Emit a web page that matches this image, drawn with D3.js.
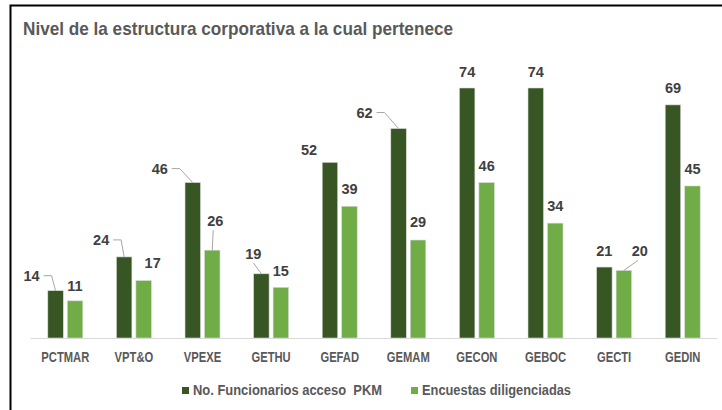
<!DOCTYPE html>
<html>
<head>
<meta charset="utf-8">
<script src="https://cdn.jsdelivr.net/npm/d3@7"></script>
<style>
  body { margin: 0; background: #fff; }
  text { font-family: "Liberation Sans", Arial, sans-serif; }
</style>
</head>
<body>
<div id="chart"></div>
<script>
const categories = ["PCTMAR", "VPT&O", "VPEXE", "GETHU", "GEFAD", "GEMAM", "GECON", "GEBOC", "GECTI", "GEDIN"];
const seriesNames = ["No. Funcionarios acceso  PKM", "Encuestas diligenciadas"];
const funcionarios = [14, 24, 46, 19, 52, 62, 74, 74, 21, 69];
const encuestas = [11, 17, 26, 15, 39, 29, 46, 34, 20, 45];

// label nudges (px from default spot) and leader kind: 0 none, 1 elbow, 2 straight
const nudges = [
  [[-24, 1], [-23, -1], [-33, 2], [-8, -4], [-21, 4], [-34, 0], [0, 0], [0, 0], [0, 0], [0, -1]],
  [[0, 1], [9, -2], [3, -13], [0, 0], [0, -1], [0, -2], [0, -1], [0, -1], [16, -3], [0, -1]],
];
const leaders = [
  [1, 1, 1, 2, 0, 1, 0, 0, 0, 0],
  [0, 0, 2, 0, 0, 0, 0, 0, 2, 0],
];

const colors = ["#375623", "#70ad47"];
const width = 722, height = 410;

const svg = d3.select("#chart").append("svg")
  .attr("width", width)
  .attr("height", height);

// frame (left + top)
svg.append("path")
  .attr("d", `M10.5,${height} V5.5 H${width}`)
  .attr("fill", "none")
  .attr("stroke", "#000")
  .attr("stroke-width", 2);

// squeeze text horizontally to mimic the narrow font
function narrow(sel, k) {
  sel.each(function () {
    const w = this.getComputedTextLength();
    d3.select(this)
      .attr("textLength", w * k)
      .attr("lengthAdjust", "spacingAndGlyphs");
  });
}

svg.append("text")
  .attr("x", 23)
  .attr("y", 35)
  .attr("font-size", 19)
  .attr("font-weight", "bold")
  .attr("fill", "#595959")
  .attr("textLength", 430)
  .attr("lengthAdjust", "spacingAndGlyphs")
  .text("Nivel de la estructura corporativa a la cual pertenece");

const x0 = d3.scaleBand()
  .domain(categories)
  .range([31, 717])
  .paddingInner(0.49)
  .paddingOuter(0.245);

const x1 = d3.scaleBand()
  .domain([0, 1])
  .range([0, x0.bandwidth()])
  .paddingInner(0.205);

const y = d3.scaleLinear()
  .domain([0, 74])
  .range([338, 88]);

const series = [funcionarios, encuestas];

const rows = [];
series.forEach((vals, s) => {
  vals.forEach((v, i) => rows.push({ s, i, cat: categories[i], value: v }));
});

// bars
svg.append("g")
  .selectAll("rect")
  .data(rows)
  .join("rect")
  .attr("x", (d) => x0(d.cat) + x1(d.s))
  .attr("y", (d) => y(d.value))
  .attr("width", x1.bandwidth())
  .attr("height", (d) => y(0) - y(d.value))
  .attr("fill", (d) => colors[d.s])
  .attr("stroke", "#d9d9d9")
  .attr("stroke-width", 0.6);

// x axis
const xAxis = svg.append("g")
  .attr("transform", `translate(0,${y(0)})`)
  .call(d3.axisBottom(x0).tickSize(0).tickPadding(0));
xAxis.select(".domain").attr("stroke", "#d9d9d9").attr("stroke-width", 1.2)
  .attr("d", "M31,0.5H717");
xAxis.selectAll("text")
  .attr("y", 24)
  .attr("dy", null)
  .attr("font-size", 14)
  .attr("font-weight", "bold")
  .attr("font-family", "Liberation Sans, Arial, sans-serif")
  .attr("fill", "#595959")
  .call(narrow, 0.8);

// data labels
const labelPos = (d) => {
  const n = nudges[d.s][d.i];
  return {
    cx: x0(d.cat) + x1(d.s) + x1.bandwidth() / 2,
    lx: x0(d.cat) + x1(d.s) + x1.bandwidth() / 2 + n[0],
    ly: y(d.value) - 16 + n[1],
  };
};

svg.append("g")
  .selectAll("text")
  .data(rows)
  .join("text")
  .attr("x", (d) => labelPos(d).lx)
  .attr("y", (d) => labelPos(d).ly)
  .attr("text-anchor", "middle")
  .attr("dominant-baseline", "central")
  .attr("font-size", 14.5)
  .attr("font-weight", "bold")
  .attr("fill", "#404040")
  .text((d) => d.value);

// leader lines
svg.append("g")
  .selectAll("path")
  .data(rows.filter((d) => leaders[d.s][d.i] > 0))
  .join("path")
  .attr("fill", "none")
  .attr("stroke", "#a6a6a6")
  .attr("stroke-width", 1)
  .attr("d", (d) => {
    const p = labelPos(d);
    const top = y(d.value);
    if (leaders[d.s][d.i] === 1) {
      const x = p.lx + 12;
      return `M${x},${p.ly}H${x + 8}L${p.cx},${top}`;
    }
    const sx = p.lx + (p.cx > p.lx ? 0 : -2);
    return `M${sx},${p.ly + 9}L${p.cx},${top}`;
  });

// legend
const legendX = [182, 411];
const legendW = [189, 149];
const legend = svg.append("g")
  .selectAll("g")
  .data(seriesNames)
  .join("g")
  .attr("transform", (d, i) => `translate(${legendX[i]},387)`);
legend.append("rect")
  .attr("width", 7)
  .attr("height", 7)
  .attr("fill", (d, i) => colors[i]);
legend.append("text")
  .attr("x", 11)
  .attr("y", 8)
  .attr("font-size", 14)
  .attr("font-weight", "bold")
  .attr("fill", "#595959")
  .style("white-space", "pre")
  .text((d) => d)
  .attr("textLength", (d, i) => legendW[i])
  .attr("lengthAdjust", "spacingAndGlyphs");
</script>
</body>
</html>
